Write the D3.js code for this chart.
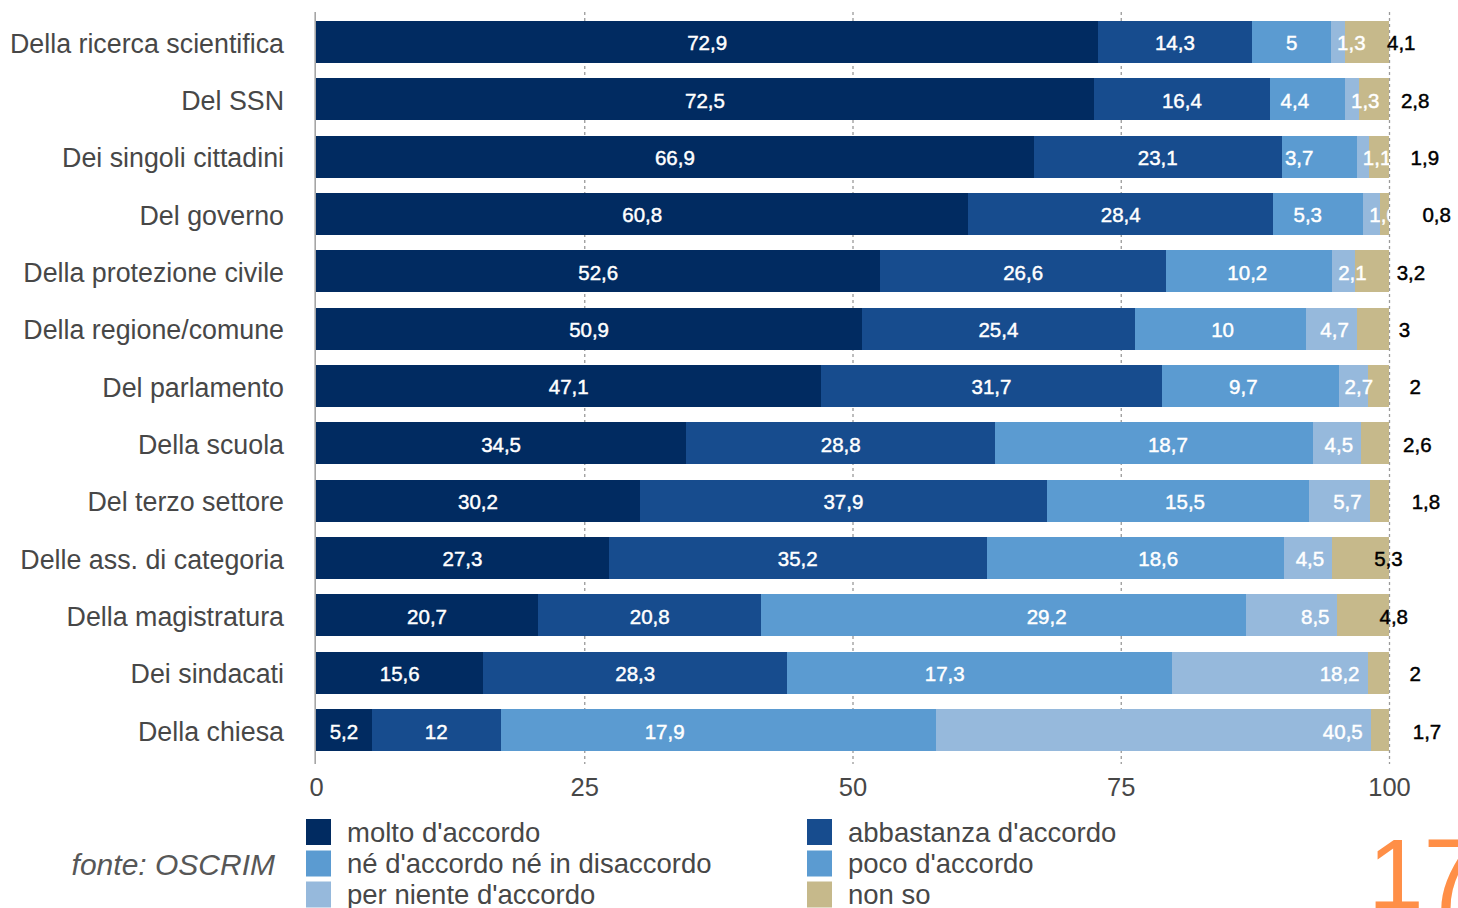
<!DOCTYPE html>
<html lang="it">
<head>
<meta charset="utf-8">
<title>Fiducia nelle istituzioni</title>
<script src="https://cdn.jsdelivr.net/npm/d3@7"></script>
<style>
  html, body { margin: 0; padding: 0; background: #ffffff; }
  svg { display: block; font-family: "Liberation Sans", Arial, Helvetica, sans-serif; }
</style>
</head>
<body>
<svg id="chart" width="1458" height="908"></svg>
<script>
// Categories, top to bottom
const categories = [
  "Della ricerca scientifica", "Del SSN", "Dei singoli cittadini", "Del governo",
  "Della protezione civile", "Della regione/comune", "Del parlamento", "Della scuola",
  "Del terzo settore", "Delle ass. di categoria", "Della magistratura", "Dei sindacati",
  "Della chiesa"
];

// Answer shares (%) per category
const molto      = [72.9, 72.5, 66.9, 60.8, 52.6, 50.9, 47.1, 34.5, 30.2, 27.3, 20.7, 15.6, 5.2];
const abbastanza = [14.3, 16.4, 23.1, 28.4, 26.6, 25.4, 31.7, 28.8, 37.9, 35.2, 20.8, 28.3, 12];
const neNe       = [5, 4.4, 3.7, 5.3, 10.2, 10, 9.7, 18.7, 15.5, 18.6, 29.2, 17.3, 17.9];
const poco       = [2.4, 2.6, 3.3, 3.1, 5.3, 6, 6.8, 10.9, 8.9, 9.1, 16, 18.6, 22.7];
const perNiente  = [1.3, 1.3, 1.1, 1.6, 2.1, 4.7, 2.7, 4.5, 5.7, 4.5, 8.5, 18.2, 40.5];
const nonSo      = [4.1, 2.8, 1.9, 0.8, 3.2, 3, 2, 2.6, 1.8, 5.3, 4.8, 2, 1.7];

const seriesNames = [
  "molto d'accordo", "abbastanza d'accordo", "né d'accordo né in disaccordo",
  "poco d'accordo", "per niente d'accordo", "non so"
];
const seriesValues = [molto, abbastanza, neNe, poco, perNiente, nonSo];
const seriesColors = ["#012b61", "#174c8e", "#5b9bd1", "#5b9bd1", "#96b9dc", "#c6b98b"];
// how each series' value label is placed: centre, inside end, none, outside
const labelMode = ["center", "center", "end", "none", "endFit", "outside"];

const tickValues = [0, 25, 50, 75, 100];
const tickLabels = ["0", "25", "50", "75", "100"];

// Legend arrangement: two columns, three rows
const legendOrder = [0, 2, 4, 1, 3, 5];

const fmt = v => String(v).replace(".", ",");

const svg = d3.select("#chart");

const x = d3.scaleLinear().domain([0, 100]).range([316, 1389]);
const y = d3.scaleBand().domain(categories).range([13.2, 758.8])
  .paddingInner(0.27).paddingOuter(0.135);

// Rows for the stack
const rows = categories.map((c, i) => {
  const r = { cat: c };
  seriesNames.forEach((s, k) => { r[s] = seriesValues[k][i]; });
  return r;
});
const stacked = d3.stack().keys(seriesNames)(rows);

// Grid lines and zero axis
const gridTop = 12, gridBottom = 764;
svg.append("g").selectAll("line").data(tickValues.filter(t => t > 0)).join("line")
  .attr("x1", d => x(d) + 0.5).attr("x2", d => x(d) + 0.5)
  .attr("y1", gridTop).attr("y2", gridBottom)
  .attr("stroke", "#9a9a9a").attr("stroke-width", 1.3)
  .attr("stroke-dasharray", "3,3");

svg.append("line")
  .attr("x1", x(0) - 0.8).attr("x2", x(0) - 0.8)
  .attr("y1", gridTop).attr("y2", gridBottom)
  .attr("stroke", "#a6a6a6").attr("stroke-width", 1.6);

// Bars
const layers = svg.append("g").attr("shape-rendering", "crispEdges")
  .selectAll("g").data(stacked).join("g")
  .attr("fill", (d, k) => seriesColors[k]);
layers.selectAll("rect").data(d => d).join("rect")
  .attr("x", d => x(d[0]))
  .attr("width", d => Math.max(0, x(d[1]) - x(d[0])))
  .attr("y", d => y(d.data.cat))
  .attr("height", y.bandwidth());

// Value labels
svg.append("defs").append("clipPath").attr("id", "plotClip")
  .append("rect").attr("x", x(0)).attr("y", 0)
  .attr("width", x(100) - x(0)).attr("height", 780);

const inner = svg.append("g").attr("clip-path", "url(#plotClip)");
const outer = svg.append("g");
const labelSize = 20.5;

stacked.forEach((layer, k) => {
  const mode = labelMode[k];
  if (mode === "none") return;
  layer.forEach(d => {
    const v = d[1] - d[0];
    const cy = y(d.data.cat) + y.bandwidth() / 2 + 1;
    const txt = fmt(+v.toFixed(1));
    if (mode === "outside") {
      outer.append("text")
        .attr("x", x(d[0]) + 42).attr("y", cy).attr("dy", "0.36em")
        .attr("text-anchor", "start")
        .attr("font-size", labelSize).attr("fill", "#000")
        .attr("stroke", "#000").attr("stroke-width", 0.45)
        .text(txt);
      return;
    }
    const t = inner.append("text")
      .attr("y", cy).attr("dy", "0.36em")
      .attr("font-size", labelSize).attr("fill", "#ffffff")
      .attr("stroke", "#ffffff").attr("stroke-width", 0.45)
      .text(txt);
    if (mode === "center") {
      t.attr("x", (x(d[0]) + x(d[1])) / 2).attr("text-anchor", "middle");
    } else if (mode === "end") {
      t.attr("x", x(d[1]) - 8).attr("text-anchor", "end");
    } else {
      const w = t.node().getComputedTextLength();
      t.attr("x", Math.max(x(d[1]) - 8, x(d[0]) + 6 + w)).attr("text-anchor", "end");
    }
  });
});

// Category labels
svg.append("g").selectAll("text").data(categories).join("text")
  .attr("x", 284).attr("y", d => y(d) + y.bandwidth() / 2 + 1).attr("dy", "0.36em")
  .attr("text-anchor", "end").attr("font-size", 26.8).attr("fill", "#474747")
  .text(d => d);

// Bottom axis labels
const xAxis = d3.axisBottom(x).tickValues(tickValues)
  .tickFormat((d, i) => tickLabels[i]).tickSize(0).tickPadding(14);
const ax = svg.append("g").attr("transform", `translate(0,${gridBottom})`).call(xAxis);
ax.select(".domain").remove();
ax.selectAll("text").attr("font-size", 25.5).attr("fill", "#474747")
  .attr("font-family", "\"Liberation Sans\", Arial, sans-serif");

// Legend
const legendCols = [306, 807];
const legendRows = [819, 850.5, 881.5];
const lg = svg.append("g").selectAll("g").data(legendOrder).join("g")
  .attr("transform", (k, i) => `translate(${legendCols[Math.floor(i / 3)]},${legendRows[i % 3]})`);
lg.append("rect").attr("width", 25).attr("height", 26)
  .attr("fill", k => seriesColors[k]);
lg.append("text").attr("x", 41).attr("y", 13).attr("dy", "0.36em")
  .attr("font-size", 27.5).attr("fill", "#474747")
  .text(k => seriesNames[k]);

// Source
svg.append("text").attr("x", 275).attr("y", 864).attr("dy", "0.36em")
  .attr("text-anchor", "end").attr("font-size", 30).attr("font-style", "italic")
  .attr("fill", "#575757").text("fonte: OSCRIM");

// Page number
svg.append("text").attr("x", 1368).attr("y", 909)
  .attr("font-size", 100).attr("fill", "#ff8f47").text("17");
</script>
</body>
</html>
